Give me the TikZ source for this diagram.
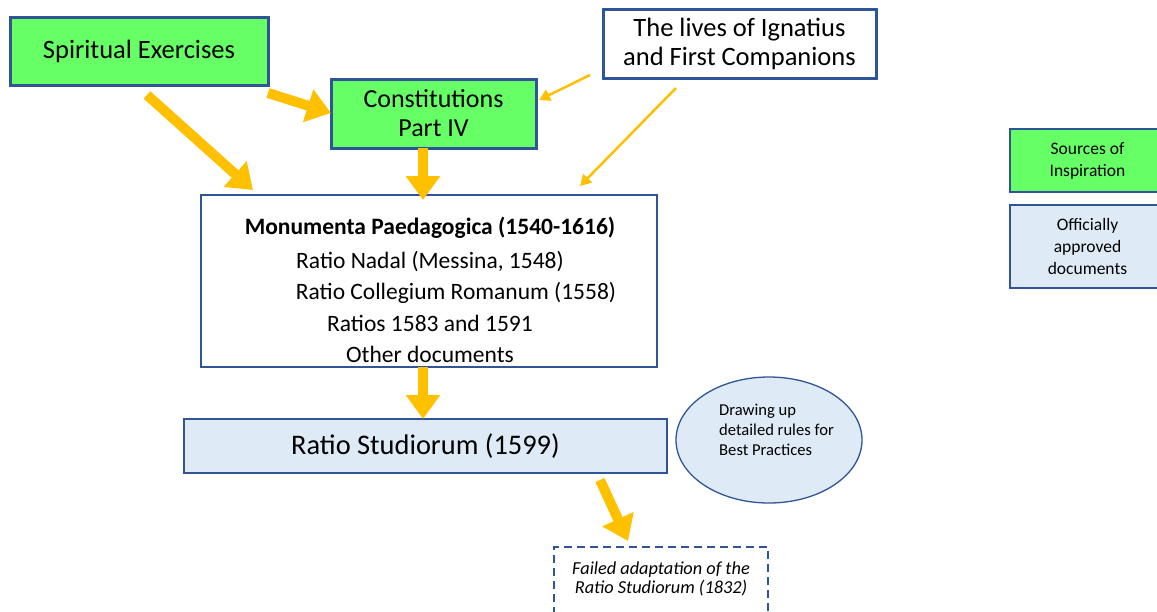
\documentclass[tikz,border=0pt]{standalone}
\usepackage{fontspec}
\setmainfont{Carlito}
\usetikzlibrary{arrows.meta,shapes.geometric}
\definecolor{gfill}{HTML}{66FF66}
\definecolor{bfill}{HTML}{DEEBF7}
\definecolor{bdr}{HTML}{2F5597}
\definecolor{org}{HTML}{FFC000}
\tikzset{
  srcbox/.style={draw=bdr, line width=3pt, fill=gfill, align=center, inner sep=0pt},
  lifebox/.style={draw=bdr, line width=3pt, fill=white, align=center, inner sep=0pt},
  docbox/.style={draw=bdr, line width=1.3pt, fill=bfill, align=center, inner sep=0pt},
  plainbox/.style={draw=bdr, line width=1.3pt, fill=white, inner sep=0pt},
  txt/.style={inner sep=0pt, align=center},
  montxt/.style={txt, font=\fontsize{23.5}{27}\selectfont},
  bigarrow/.style={draw=org, line width=10pt, -{Triangle[width=33pt,length=24pt]}},
  thinarrow/.style={draw=org, line width=2.5pt, -{Triangle[width=12pt,length=11pt]}},
}
\begin{document}
\begin{tikzpicture}[x=1pt,y=-1pt]
\useasboundingbox (0,0) rectangle (1157,611);
% nodes
\node[srcbox, minimum width=258, minimum height=68, font=\fontsize{26.5}{29}\selectfont] (se) at (139,51) {Spiritual Exercises};
\node[srcbox, minimum width=205, minimum height=69, font=\fontsize{26}{29}\selectfont] (con) at (433.5,113.5) {Constitutions\\Part IV};
\node[lifebox, minimum width=273, minimum height=69, font=\fontsize{26.5}{29}\selectfont] (lives) at (739.5,43.5) {The lives of Ignatius\\and First Companions};
\node[plainbox, minimum width=456, minimum height=172] (mon) at (429,281) {};
\node[montxt, font=\fontsize{23.5}{27}\selectfont\bfseries] (m0) at (430,228) {Monumenta Paedagogica (1540-1616)};
\node[montxt] (m1) at (430,262) {Ratio Nadal (Messina, 1548)};
\node[montxt] (m2) at (456,293) {Ratio Collegium Romanum (1558)};
\node[montxt] (m3) at (430,323) {Ratios 1583 and 1591};
\node[montxt] (m4) at (430,354) {Other documents};
\node[docbox, minimum width=483, minimum height=54, font=\fontsize{28.4}{32}\selectfont] (rs) at (425.5,446) {Ratio Studiorum (1599)};
\node[ellipse, draw=bdr, line width=1.3pt, fill=bfill, minimum width=186, minimum height=126, inner sep=0pt] (ell) at (769,440) {};
\node[txt, anchor=west, align=left, font=\fontsize{16.6}{20}\selectfont] (elltxt) at (719,430) {Drawing up\\detailed rules for\\Best Practices};
\node[draw=bdr, line width=1.3pt, dash pattern=on 8pt off 5pt, minimum width=214, minimum height=84, inner sep=0pt] (fail) at (661,589) {};
\node[txt, font=\fontsize{18.3}{19}\selectfont\itshape] (failtxt) at (661,579) {Failed adaptation of the\\Ratio Studiorum (1832)};
\node[srcbox, line width=1.3pt, minimum width=155, minimum height=63, font=\fontsize{17.5}{22}\selectfont] (src) at (1087.5,160.5) {Sources of\\Inspiration};
\node[docbox, minimum width=155, minimum height=83, font=\fontsize{17.5}{22}\selectfont] (off) at (1087.5,246.5) {Officially\\approved\\documents};
% connector coordinates
\coordinate (a1s) at (147,95);  \coordinate (a1e) at (253,190);
\coordinate (a2s) at (268,93);  \coordinate (a2e) at (331,113);
\coordinate (a3s) at (423,148); \coordinate (a3e) at (423,200);
\coordinate (a4s) at (423,367); \coordinate (a4e) at (423,419);
\coordinate (a6s) at (590,75);  \coordinate (a6e) at (539,100);
\coordinate (a7s) at (676,88);  \coordinate (a7e) at (580,186);
\coordinate (a5s) at (600,480); \coordinate (a5e) at (628,541);
% arrows
\draw[bigarrow] (a1s) -- (a1e);
\draw[bigarrow] (a2s) -- (a2e);
\draw[bigarrow] (a3s) -- (a3e);
\draw[bigarrow] (a4s) -- (a4e);
\draw[bigarrow] (a5s) -- (a5e);
\draw[thinarrow] (a6s) -- (a6e);
\draw[thinarrow] (a7s) -- (a7e);
\end{tikzpicture}
\end{document}
